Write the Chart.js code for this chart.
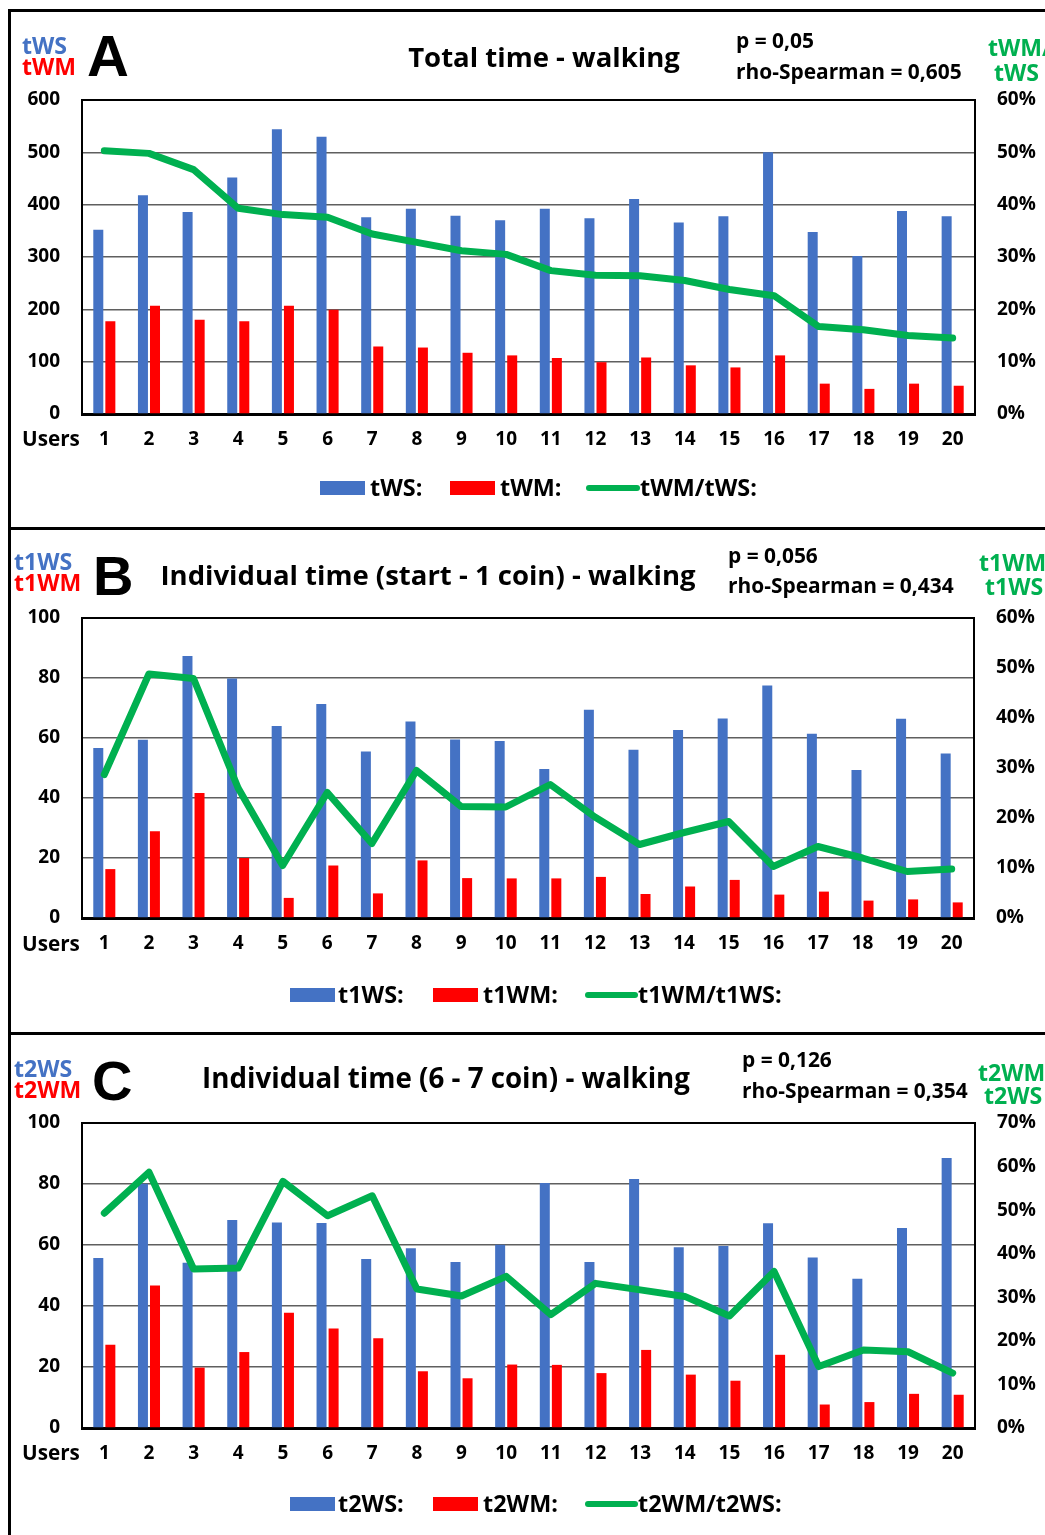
<!DOCTYPE html>
<html><head><meta charset="utf-8">
<script src="https://cdn.jsdelivr.net/npm/chart.js@4.4.1/dist/chart.umd.min.js"></script>
<style>
html,body{margin:0;padding:0;background:#fff;}
body{width:1045px;height:1535px;position:relative;overflow:hidden;font-family:"Open Sans",sans-serif;}
.t{position:absolute;white-space:nowrap;line-height:1;font-weight:700;color:#000;transform:translateY(-50%);}
.c{transform:translate(-50%,-50%);}
.big{font-family:"Liberation Sans",Arial,sans-serif;font-weight:700;}
.side{font-weight:700;}
.bl{color:#4472C4}.rd{color:#FF0000}.gr{color:#00B050}
canvas{position:absolute;left:0;}
.f{position:absolute;background:#000;}
.box{position:absolute;height:14px;width:45px;transform:translateY(-50%);}
.ln{position:absolute;height:6px;border-radius:3px;background:#00B050;transform:translateY(-50%);}
</style></head><body>

<!-- frame -->
<div class="f" style="left:8px;top:9px;width:3px;height:1526px"></div>
<div class="f" style="left:8px;top:9px;width:1037px;height:3px"></div>
<div class="f" style="left:8px;top:527px;width:1037px;height:3px"></div>
<div class="f" style="left:8px;top:1032px;width:1037px;height:3px"></div>

<canvas id="cA" width="1045" height="514" style="top:12px"></canvas>
<canvas id="cB" width="1045" height="502" style="top:530px"></canvas>
<canvas id="cC" width="1045" height="500" style="top:1035px"></canvas>

<!-- Panel A texts -->
<div class="t side bl" data-w="45" style="left:22px;top:46px">tWS</div>
<div class="t side rd" style="left:22px;top:67px">tWM</div>
<div class="t big" style="left:87px;top:56px;font-size:58px">A</div>
<div class="t c" data-w="272" style="left:544px;top:57px">Total time - walking</div>
<div class="t pv" style="left:736px;top:40px">p = 0,05</div>
<div class="t rho" data-w="226" style="left:736px;top:71px">rho-Spearman = 0,605</div>
<div class="t side gr" style="left:988px;top:48px">tWM/</div>
<div class="t side gr" style="left:994px;top:73px">tWS</div>
<div class="t users" style="left:22px;top:438px">Users</div>
<div class="box" style="left:320px;top:488px;background:#4472C4"></div>
<div class="t lg" style="left:370px;top:488px">tWS:</div>
<div class="box" style="left:450px;top:488px;background:#FF0000"></div>
<div class="t lg" style="left:500px;top:488px">tWM:</div>
<div class="ln" style="left:586px;top:488px;width:54px"></div>
<div class="t lg" style="left:640px;top:488px">tWM/tWS:</div>

<!-- Panel B texts -->
<div class="t side bl" style="left:14px;top:562px">t1WS</div>
<div class="t side rd" style="left:14px;top:583px">t1WM</div>
<div class="t big" style="left:93px;top:576px;font-size:56px">B</div>
<div class="t c" data-w="535" style="left:428px;top:575px">Individual time (start - 1 coin) - walking</div>
<div class="t pv" style="left:728px;top:555px">p = 0,056</div>
<div class="t rho" style="left:728px;top:585px">rho-Spearman = 0,434</div>
<div class="t side gr" style="left:979px;top:563px">t1WM/</div>
<div class="t side gr" style="left:985px;top:587px">t1WS</div>
<div class="t users" style="left:22px;top:943px">Users</div>
<div class="box" style="left:290px;top:995px;background:#4472C4"></div>
<div class="t lg" style="left:338px;top:995px">t1WS:</div>
<div class="box" style="left:433px;top:995px;background:#FF0000"></div>
<div class="t lg" style="left:483px;top:995px">t1WM:</div>
<div class="ln" style="left:585px;top:995px;width:53px"></div>
<div class="t lg" style="left:638px;top:995px">t1WM/t1WS:</div>

<!-- Panel C texts -->
<div class="t side bl" style="left:14px;top:1069px">t2WS</div>
<div class="t side rd" style="left:14px;top:1090px">t2WM</div>
<div class="t big" style="left:92px;top:1081px;font-size:56px">C</div>
<div class="t c" data-w="488" style="left:446px;top:1078px">Individual time (6 - 7 coin) - walking</div>
<div class="t pv" style="left:742px;top:1059px">p = 0,126</div>
<div class="t rho" style="left:742px;top:1090px">rho-Spearman = 0,354</div>
<div class="t side gr" style="left:978px;top:1073px">t2WM/</div>
<div class="t side gr" style="left:984px;top:1096px">t2WS</div>
<div class="t users" style="left:22px;top:1452px">Users</div>
<div class="box" style="left:290px;top:1504px;background:#4472C4"></div>
<div class="t lg" style="left:338px;top:1504px">t2WS:</div>
<div class="box" style="left:433px;top:1504px;background:#FF0000"></div>
<div class="t lg" style="left:483px;top:1504px">t2WM:</div>
<div class="ln" style="left:585px;top:1504px;width:53px"></div>
<div class="t lg" style="left:638px;top:1504px">t2WM/t2WS:</div>

<script>
// ---------- data ----------
const users = ['1','2','3','4','5','6','7','8','9','10','11','12','13','14','15','16','17','18','19','20'];

const tWS = [352,418,386,452,544,530,376,392,379,370,392,374,411,366,378,500,348,302,388,378];
const tWM = [177,207,180,177,207,199,129,127,117,112,107,99,108,93,89,112,58,48,58,54];
const tWM_tWS = [50.3,49.8,46.7,39.3,38.1,37.6,34.4,32.8,31.2,30.5,27.4,26.5,26.4,25.5,23.8,22.6,16.7,16.1,15.0,14.5];

const t1WS = [56.7,59.4,87.3,79.8,64.0,71.3,55.5,65.5,59.5,59.0,49.7,69.4,56.1,62.7,66.5,77.5,61.4,49.3,66.4,54.8];
const t1WM = [16.3,28.9,41.7,20.0,6.7,17.5,8.2,19.2,13.3,13.2,13.2,13.7,8.0,10.5,12.7,7.8,8.8,5.8,6.2,5.2];
const t1WM_t1WS = [28.7,48.8,47.9,26.0,10.5,25.1,14.9,29.5,22.3,22.2,26.7,20.2,14.7,17.1,19.3,10.3,14.3,12.0,9.3,9.8];

const t2WS = [55.7,80.1,54.2,68.2,67.4,67.2,55.4,58.9,54.4,60.1,80.3,54.4,81.6,59.3,59.7,67.1,55.9,48.9,65.6,88.5];
const t2WM = [27.3,46.7,19.8,24.9,37.8,32.6,29.4,18.6,16.3,20.8,20.7,18.0,25.6,17.5,15.5,24.0,7.7,8.5,11.2,10.9];
const t2WM_t2WS = [49.3,58.7,36.5,36.7,56.6,48.7,53.3,31.9,30.3,34.8,26.0,33.2,31.7,30.2,25.7,35.9,14.1,17.9,17.5,12.6];

const leftTicksA = {max:600, step:100};
const leftTicksBC = {max:100, step:20};
const rightTicksAB = {max:60, step:10};
const rightTicksC = {max:70, step:10};

// ---------- text fitting ----------
function fitTo(el, w){ el.style.fontSize='40px'; const s = 40*w/el.offsetWidth; el.style.fontSize = s+'px'; return s; }
document.querySelectorAll('.t[data-w]').forEach(el=>fitTo(el, +el.dataset.w));
const sideSize = parseFloat(document.querySelector('.side.bl').style.fontSize);
document.querySelectorAll('.side').forEach(el=>{ if(!el.classList.contains('big')) el.style.fontSize = sideSize+'px'; });
const rhoSize = parseFloat(document.querySelector('.rho[data-w]').style.fontSize);
document.querySelectorAll('.rho,.pv').forEach(el=>el.style.fontSize = rhoSize+'px');
const lgProbe = document.querySelectorAll('.lg')[2];
const lgSize = fitTo(lgProbe, 117);
document.querySelectorAll('.lg').forEach(el=>el.style.fontSize = lgSize+'px');
document.querySelectorAll('.users').forEach(el=>fitTo(el,58));

// ---------- charts ----------
const FONT = {family:'"Open Sans", sans-serif', size:19, weight:'bold'};
const topFrame = {
  id:'topFrame',
  afterDraw(chart){
    const {ctx, chartArea:a} = chart;
    ctx.save(); ctx.strokeStyle='#000'; ctx.lineWidth=2;
    ctx.beginPath(); ctx.moveTo(a.left-1, a.top); ctx.lineTo(a.right+1, a.top); ctx.stroke();
    ctx.restore();
  }
};

function makeChart(id, names, ws, wm, ratio, lt, rt, xh, rw){
  new Chart(document.getElementById(id), {
    data:{
      labels: users,
      datasets:[
        {type:'bar', label:names[0], data:ws, backgroundColor:'#4472C4', yAxisID:'y', order:1,
         categoryPercentage:0.54, barPercentage:0.83},
        {type:'bar', label:names[1], data:wm, backgroundColor:'#FF0000', yAxisID:'y', order:1,
         categoryPercentage:0.54, barPercentage:0.83},
        {type:'line', label:names[2], data:ratio, borderColor:'#00B050', borderWidth:7, pointRadius:0,
         tension:0, yAxisID:'y1', order:0, borderCapStyle:'round', borderJoinStyle:'round', fill:false}
      ]
    },
    options:{
      responsive:false, animation:false, devicePixelRatio:1,
      layout:{padding:{top:88, left:0, right:0, bottom:0}},
      plugins:{legend:{display:false}, tooltip:{enabled:false}},
      scales:{
        x:{grid:{display:false, drawTicks:false}, border:{color:'#000', width:3},
           ticks:{color:'#000', font:FONT, padding:14, maxRotation:0, autoSkip:false},
           afterFit:s=>{s.height = xh;}},
        y:{position:'left', min:0, max:lt.max,
           ticks:{stepSize:lt.step, color:'#000', font:FONT, padding:22},
           grid:{color:'#5f5f5f', lineWidth:1.5, drawTicks:false},
           border:{color:'#000', width:2},
           afterFit:s=>{s.width = 82;}},
        y1:{position:'right', min:0, max:rt.max,
           ticks:{stepSize:rt.step, color:'#000', font:FONT, padding:22, callback:v=>v+'%'},
           grid:{display:false, drawTicks:false},
           border:{color:'#000', width:2},
           afterFit:s=>{s.width = rw;}}
      }
    },
    plugins:[topFrame]
  });
}

makeChart('cA', ['tWS:','tWM:','tWM/tWS:'], tWS, tWM, tWM_tWS, leftTicksA, rightTicksAB, 112, 70);
makeChart('cB', ['t1WS:','t1WM:','t1WM/t1WS:'], t1WS, t1WM, t1WM_t1WS, leftTicksBC, rightTicksAB, 114, 71);
makeChart('cC', ['t2WS:','t2WM:','t2WM/t2WS:'], t2WS, t2WM, t2WM_t2WS, leftTicksBC, rightTicksC, 107, 70);
</script>
</body></html>
